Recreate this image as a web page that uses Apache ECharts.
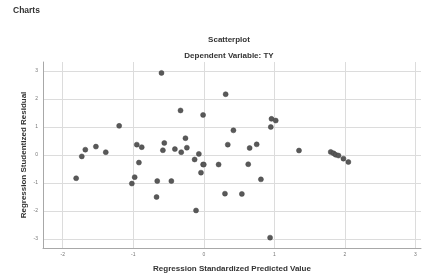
<!DOCTYPE html>
<html>
<head>
<meta charset="utf-8">
<script src="https://cdn.jsdelivr.net/npm/echarts@6/dist/echarts.min.js"></script>
<style>
  html, body { margin: 0; padding: 0; background: #fff; }
  #chart { width: 422px; height: 275px; }
</style>
</head>
<body>
<div id="chart"></div>
<script>
// predicted (x) vs studentized residual (y)
const predicted = [
  -0.60, -0.33, -0.01, -1.20, -0.95, -0.88, -0.56, -0.58, -0.41, -0.32,
  -0.26, -0.24, -1.68, -1.53, -1.39, -1.73, -0.07, -0.13, -0.92, -0.01,
  0.00, 0.21, -1.81, -0.98, -1.02, -0.66, -0.46, -0.67, -0.11, -0.04,
  0.31, 0.42, 0.96, 1.02, 0.95, 0.34, 0.65, 0.75, 1.35, 1.80,
  1.84, 1.87, 1.91, 1.98, 2.05, 0.63, 0.30, 0.54, 0.81, 0.94
];
const residual = [
  2.93, 1.59, 1.43, 1.04, 0.37, 0.28, 0.43, 0.17, 0.21, 0.10,
  0.60, 0.26, 0.19, 0.30, 0.10, -0.05, 0.04, -0.16, -0.27, -0.34,
  -0.34, -0.34, -0.83, -0.79, -1.02, -0.93, -0.93, -1.50, -1.98, -0.63,
  2.17, 0.88, 1.29, 1.23, 1.00, 0.37, 0.25, 0.38, 0.16, 0.11,
  0.06, 0.01, -0.02, -0.13, -0.25, -0.33, -1.38, -1.39, -0.87, -2.95
];
const xTicks = [-2, -1, 0, 1, 2, 3];
const yTicks = [-3, -2, -1, 0, 1, 2, 3];

const chart = echarts.init(document.getElementById("chart"));
const font = "'Liberation Sans', Arial, sans-serif";

chart.setOption({
  animation: false,
  textStyle: { fontFamily: font },
  graphic: [
    {
      type: "text",
      left: 13,
      top: 6,
      style: { text: "Charts", font: "bold 8.5px " + font, fill: "#333" },
    },
  ],
  title: {
    text: "Scatterplot",
    subtext: "Dependent Variable: TY",
    left: 224,
    textAlign: "center",
    top: 31,
    itemGap: 8,
    textStyle: { fontSize: 8, fontWeight: "bold", color: "#333", fontFamily: font },
    subtextStyle: { fontSize: 8, fontWeight: "bold", color: "#333", fontFamily: font },
  },
  grid: { left: 43, top: 62, right: 1, bottom: 27, outerBoundsMode: "none" },
  xAxis: {
    type: "value",
    min: -2.28,
    max: 3.08,
    name: "Regression Standardized Predicted Value",
    nameLocation: "middle",
    nameGap: 17,
    nameMoveOverlap: false,
    nameTextStyle: { fontSize: 8, fontWeight: "bold", color: "#333" },
    axisLine: { show: true, onZero: false, lineStyle: { color: "#a8a8a8", width: 1 } },
    axisTick: { show: false, customValues: xTicks },
    axisLabel: { customValues: xTicks, fontSize: 5, color: "#777", margin: 4 },
    splitLine: { show: true, lineStyle: { color: "#dcdcdc", width: 1 } },
  },
  yAxis: {
    type: "value",
    min: -3.32,
    max: 3.32,
    name: "Regression Studentized Residual",
    nameLocation: "middle",
    nameGap: 15,
    nameMoveOverlap: false,
    nameTextStyle: { fontSize: 8, fontWeight: "bold", color: "#333" },
    axisLine: { show: true, onZero: false, lineStyle: { color: "#a8a8a8", width: 1 } },
    axisTick: { show: false, customValues: yTicks },
    axisLabel: { customValues: yTicks, fontSize: 5, color: "#777", margin: 5 },
    splitLine: { show: true, lineStyle: { color: "#dcdcdc", width: 1 } },
  },
  series: [
    {
      type: "scatter",
      symbolSize: 5,
      data: predicted.map((x, i) => [x, residual[i]]),
      itemStyle: { color: "#595959", borderColor: "#444", borderWidth: 0.5, opacity: 1 },
    },
  ],
});
</script>
</body>
</html>
